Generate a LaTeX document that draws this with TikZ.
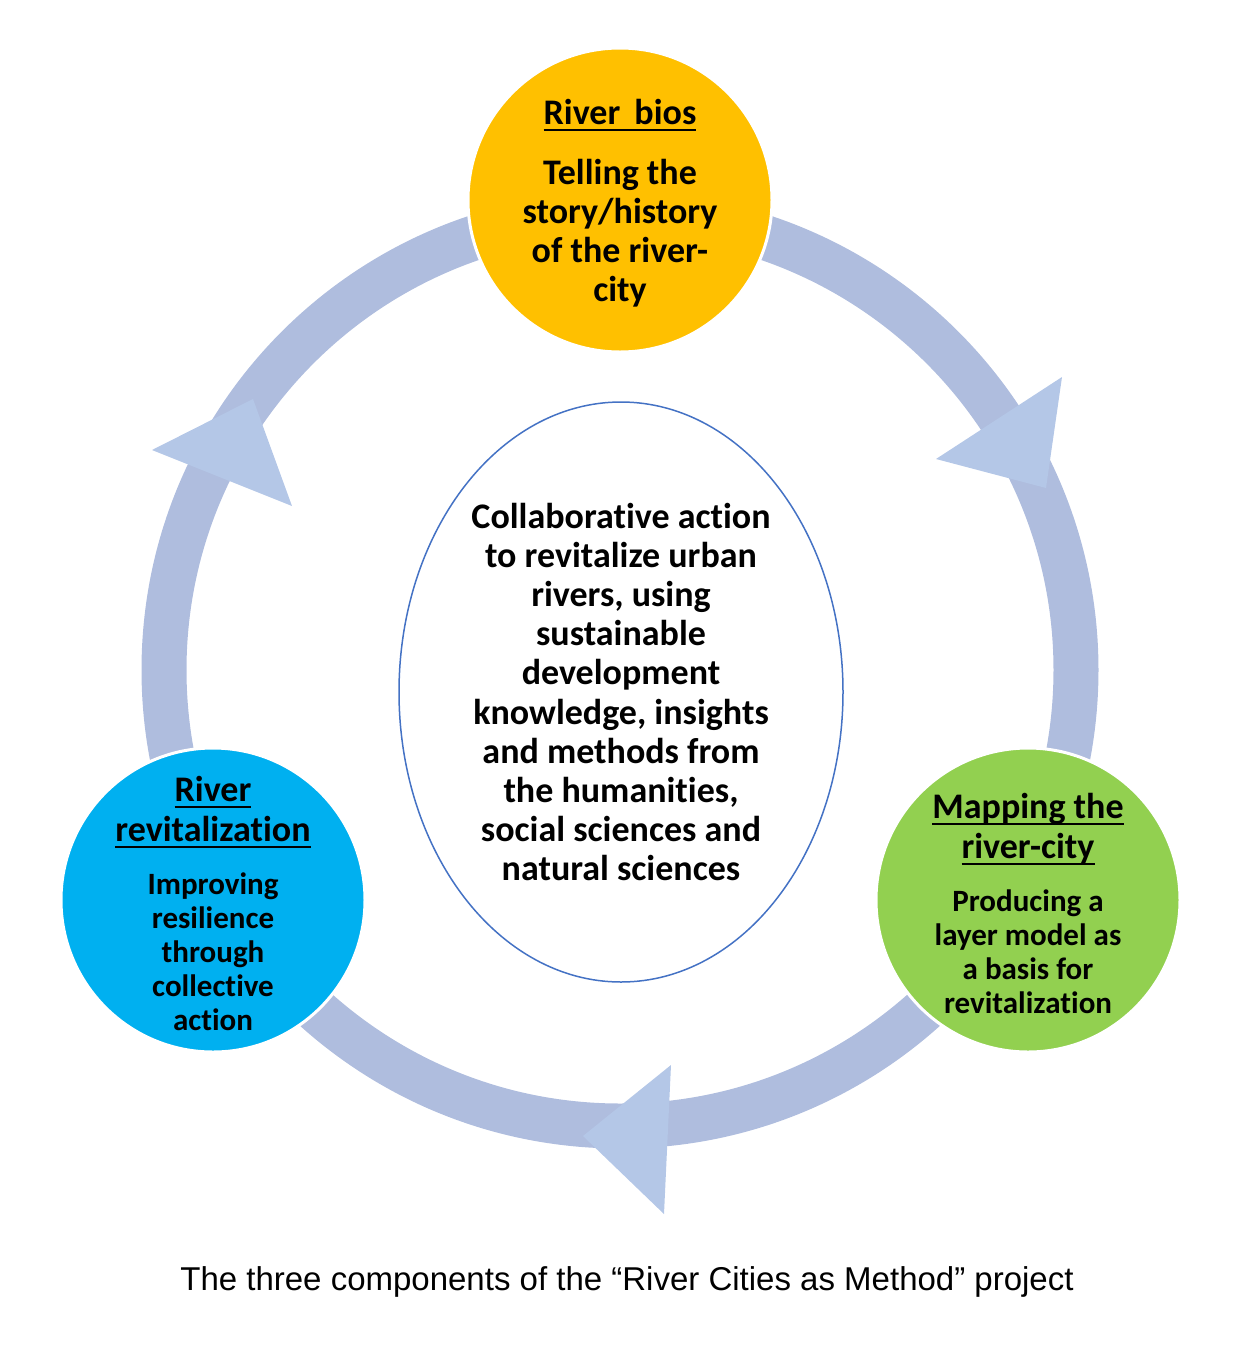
\documentclass[tikz,border=0pt]{standalone}
\usepackage{fontspec}
\setmainfont{Carlito}[Ligatures=CommonOff]
\newfontfamily\capfont{Liberation Sans}
\usetikzlibrary{shapes.geometric}
\definecolor{ringblue}{RGB}{175,189,222}
\definecolor{headblue}{RGB}{180,199,231}
\definecolor{biosyellow}{RGB}{255,192,0}
\definecolor{mapgreen}{RGB}{146,208,80}
\definecolor{revblue}{RGB}{0,176,240}
\definecolor{hubline}{RGB}{68,114,196}
\newcommand{\headul}[1]{{\fontsize{36}{34}\selectfont\sbox0{#1}\rlap{\rule[-7pt]{\wd0}{2pt}}\usebox0}}

\begin{document}
\begin{tikzpicture}[x=1pt, y=-1pt,
    disc/.style     = {circle, draw=white, line width=3pt, minimum size=304pt, inner sep=0pt},
    disctext/.style = {align=center, font=\bfseries\fontsize{31}{34}\selectfont},
    hub/.style      = {ellipse, draw=hubline, line width=1.5pt, minimum width=444pt, minimum height=580pt, inner sep=0pt},
    hubtext/.style  = {align=center, font=\bfseries\fontsize{36}{39.2}\selectfont},
    arrowhd/.style  = {fill=headblue}]
    \useasboundingbox (0,0) rectangle (1251,1350);

    % the cycle ring
    \coordinate (mid) at (620,670);
    \draw[ringblue, line width=45pt] (mid) circle[radius=456];

    % arrow heads on the ring
    \fill[arrowhd] (1062,377) -- (936,459) -- (1046,488) -- cycle;
    \fill[arrowhd] (671,1065) -- (583,1136) -- (664,1214) -- cycle;
    \fill[arrowhd] (253,399) -- (152,450) -- (292,506) -- cycle;

    % centre
    \node[hub] (hub) at (621,692) {};
    \node[hubtext] (hubtext) at (hub) {Collaborative action\\to revitalize urban\\rivers, using\\sustainable\\development\\knowledge, insights\\and methods from\\the humanities,\\social sciences and\\natural sciences};

    % the three components
    \node[disc, fill=biosyellow] (bios) at (620,200) {};
    \node[disctext, font=\bfseries\fontsize{36}{39}\selectfont] (biostext) at ([yshift=-3pt]bios) {\headul{River\hspace{6pt} bios}\\[21pt]Telling the\\story/history\\of the river-\\city};

    \node[disc, fill=mapgreen] (map) at (1028,900) {};
    \node[disctext] (maptext) at ([yshift=-3pt]map) {\headul{Mapping the}\\[6pt]\headul{river-city}\\[19pt]Producing a\\layer model as\\a basis for\\revitalization};

    \node[disc, fill=revblue] (revit) at (213,900) {};
    \node[disctext] (revittext) at ([yshift=-3pt]revit) {\headul{River}\\[6pt]\headul{revitalization}\\[19pt]Improving\\resilience\\through\\collective\\action};

    % caption
    \node[font=\capfont\fontsize{33}{38}\selectfont] (caption) at (627,1282) {The three components of the “River Cities as Method” project};
\end{tikzpicture}
\end{document}
